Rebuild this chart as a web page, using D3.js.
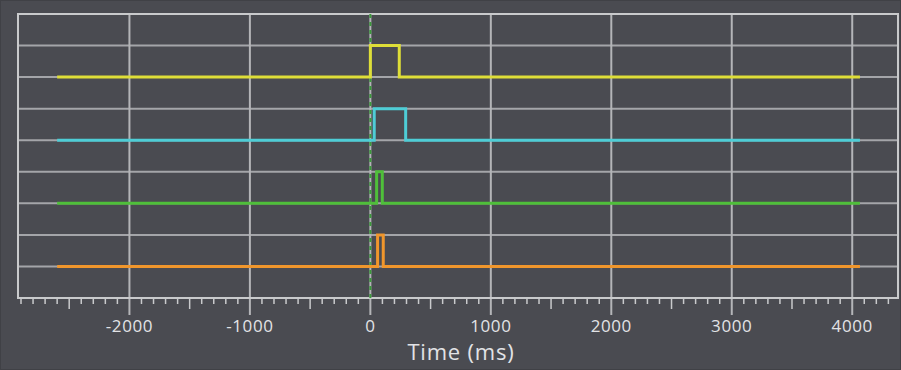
<!DOCTYPE html>
<html>
<head>
<meta charset="utf-8">
<script src="https://cdn.jsdelivr.net/npm/d3@7"></script>
<style>
  html, body { margin: 0; padding: 0; background: #4a4b51; }
  svg { display: block; }
</style>
</head>
<body>
<div id="chart"></div>
<script>
// signal channels: time of edges (ms) and the level on each segment
const channels = ['ch1', 'ch2', 'ch3', 'ch4'];
const ch1Times = [-2600, 0, 240, 4064];
const ch2Times = [-2600, 32, 293, 4064];
const ch3Times = [-2600, 52, 99, 4064];
const ch4Times = [-2600, 60, 107, 4064];
const ch1Levels = [7, 8, 7, 7];
const ch2Levels = [5, 6, 5, 5];
const ch3Levels = [3, 4, 3, 3];
const ch4Levels = [1, 2, 1, 1];
const colors = ['#dede38', '#4ecdd6', '#4fbf3a', '#f0962c'];
const xTicks = [-2000, -1000, 0, 1000, 2000, 3000, 4000];
const triggerTime = 0;

const w = 901,
  h = 370;
const margin = { top: 14, right: 3, bottom: 72, left: 18 };

const x = d3.scaleLinear().domain([-2925, 4380]).range([margin.left, w - margin.right]);
const y = d3.scaleLinear().domain([0, 9]).range([h - margin.bottom, margin.top]);

const series = [
  { name: 'ch1', t: ch1Times, v: ch1Levels },
  { name: 'ch2', t: ch2Times, v: ch2Levels },
  { name: 'ch3', t: ch3Times, v: ch3Levels },
  { name: 'ch4', t: ch4Times, v: ch4Levels },
].map((s, i) => ({
  name: s.name,
  color: colors[i],
  points: s.t.map((t, j) => ({ t: t, v: s.v[j] })),
}));

let svg = d3
  .select('#chart')
  .append('svg')
  .attr('width', w)
  .attr('height', h);

svg
  .append('rect')
  .attr('x', 0.5)
  .attr('y', 0.5)
  .attr('width', w - 1)
  .attr('height', h - 1)
  .attr('fill', '#4a4b51')
  .attr('stroke', '#404146');

// horizontal grid
svg
  .append('g')
  .selectAll('line')
  .data(d3.range(1, 9))
  .join('line')
  .attr('x1', margin.left)
  .attr('x2', w - margin.right)
  .attr('y1', (d) => y(d))
  .attr('y2', (d) => y(d))
  .attr('stroke', '#a4a5a9')
  .attr('stroke-width', 2);

// vertical grid (extends below the plot like long ticks)
svg
  .append('g')
  .selectAll('line')
  .data(xTicks)
  .join('line')
  .attr('x1', (d) => x(d))
  .attr('x2', (d) => x(d))
  .attr('y1', margin.top)
  .attr('y2', h - margin.bottom + 17)
  .attr('stroke', '#b4b5b8')
  .attr('stroke-width', 2);

// plot border
svg
  .append('rect')
  .attr('x', margin.left)
  .attr('y', margin.top)
  .attr('width', w - margin.right - margin.left)
  .attr('height', h - margin.bottom - margin.top)
  .attr('fill', 'none')
  .attr('stroke', '#c9cacc')
  .attr('stroke-width', 2);

// x axis with minor ticks
const minor = d3.range(-2900, 4400, 100).filter((d) => d % 1000 !== 0);
const xAxis = svg.append('g').attr('transform', `translate(0,${h - margin.bottom})`);
xAxis
  .selectAll('line.minor')
  .data(minor)
  .join('line')
  .attr('class', 'minor')
  .attr('x1', (d) => x(d))
  .attr('x2', (d) => x(d))
  .attr('y1', 0)
  .attr('y2', (d) => (d % 500 === 0 ? 11 : 6))
  .attr('stroke', '#c9cacc')
  .attr('stroke-width', 1.5);

xAxis
  .selectAll('text')
  .data(xTicks)
  .join('text')
  .attr('x', (d) => x(d))
  .attr('y', 34)
  .attr('text-anchor', 'middle')
  .attr('fill', '#e2e3e6')
  .style('font-family', 'Open Sans, sans-serif')
  .style('font-size', '17px')
  .style('letter-spacing', '0.6px')
  .text((d) => (d < 0 ? '-' + Math.abs(d) : d));

svg
  .append('text')
  .attr('x', 461)
  .attr('y', 360)
  .attr('text-anchor', 'middle')
  .attr('fill', '#e2e3e6')
  .style('font-family', 'Open Sans, sans-serif')
  .style('font-size', '22px')
  .style('letter-spacing', '0.8px')
  .text('Time (ms)');

// trigger marker
svg
  .append('line')
  .attr('x1', x(triggerTime))
  .attr('x2', x(triggerTime))
  .attr('y1', margin.top)
  .attr('y2', h - margin.bottom)
  .attr('stroke', '#3c9a3c')
  .attr('stroke-width', 2)
  .attr('stroke-dasharray', '4,4');

const line = d3
  .line()
  .curve(d3.curveStepAfter)
  .x((d) => x(d.t))
  .y((d) => y(d.v));

svg
  .append('g')
  .selectAll('path')
  .data(series)
  .join('path')
  .attr('d', (d) => line(d.points))
  .attr('fill', 'none')
  .attr('stroke', (d) => d.color)
  .attr('stroke-width', 3);
</script>
</body>
</html>
